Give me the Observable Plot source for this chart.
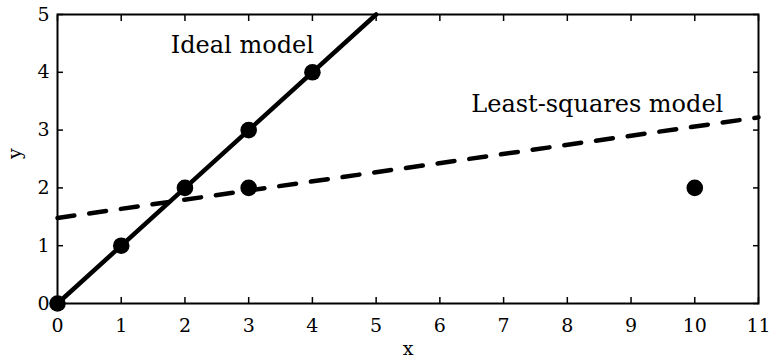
<!DOCTYPE html>
<html>
<head>
<meta charset="utf-8">
<script src="https://cdn.jsdelivr.net/npm/d3@7"></script>
<script src="https://cdn.jsdelivr.net/npm/@observablehq/plot@0.6"></script>
<style>
  body { margin: 0; background: #fff; }
  #chart svg { display: block; }
</style>
</head>
<body>
<div id="chart"></div>
<script>
// Observed points
const pointX = [0, 1, 2, 3, 4, 3, 10];
const pointY = [0, 1, 2, 3, 4, 2, 2];

// Ideal model y = x, drawn up to the top of the frame
const idealX = [0, 5];
const idealY = [0, 5];

// Least-squares fit endpoints across the x domain
const fitX = [0, 11];
const fitY = [1.48, 3.22];

// Axis ticks
const xTicks = [0, 1, 2, 3, 4, 5, 6, 7, 8, 9, 10, 11];
const yTicks = [0, 1, 2, 3, 4, 5];

// Annotations
const labelText = ["Ideal model", "Least-squares model"];
const labelX = [2.9, 8.47];
const labelY = [4.47, 3.45];

const points = pointX.map((x, i) => ({x, y: pointY[i]}));
const ideal = idealX.map((x, i) => ({x, y: idealY[i]}));
const fit = fitX.map((x, i) => ({x, y: fitY[i]}));
const labels = labelText.map((text, i) => ({text, x: labelX[i], y: labelY[i]}));

const font = "DejaVu Serif";
const intFmt = d3.format("d");

const chart = Plot.plot({
  width: 774,
  height: 360,
  marginLeft: 57,
  marginRight: 16,
  marginTop: 14,
  marginBottom: 57,
  style: {fontFamily: font, fontSize: "19px", color: "#000", background: "#fff"},
  x: {domain: [0, 11], ticks: xTicks},
  y: {domain: [0, 5], ticks: yTicks},
  marks: [
    // inward ticks on all four sides
    Plot.axisX(xTicks, {anchor: "bottom", tickSize: -6, tickPadding: 21, tickFormat: intFmt, strokeWidth: 1.5, label: null, fontSize: 19}),
    Plot.axisX(xTicks, {anchor: "top", tickSize: -6, tickFormat: () => "", strokeWidth: 1.5, label: null}),
    Plot.axisY(yTicks, {anchor: "left", tickSize: -6, tickPadding: 14, tickFormat: intFmt, strokeWidth: 1.5, label: null, fontSize: 19}),
    Plot.axisY(yTicks, {anchor: "right", tickSize: -6, tickFormat: () => "", strokeWidth: 1.5, label: null}),
    Plot.frame({stroke: "#000", strokeWidth: 2}),
    Plot.line(ideal, {x: "x", y: "y", stroke: "#000", strokeWidth: 4.5}),
    Plot.line(fit, {x: "x", y: "y", stroke: "#000", strokeWidth: 4.5, strokeDasharray: "17,15"}),
    Plot.dot(points, {x: "x", y: "y", r: 8.3, fill: "#000", stroke: null}),
    Plot.text(labels, {x: "x", y: "y", text: "text", fontSize: 24, fill: "#000", fontFamily: font}),
    Plot.text(["x"], {frameAnchor: "bottom", dy: 51, fontSize: 19, fill: "#000"}),
    Plot.text(["y"], {frameAnchor: "left", dx: -43, rotate: -90, fontSize: 19, fill: "#000"})
  ]
});

document.getElementById("chart").appendChild(chart);
</script>
</body>
</html>
